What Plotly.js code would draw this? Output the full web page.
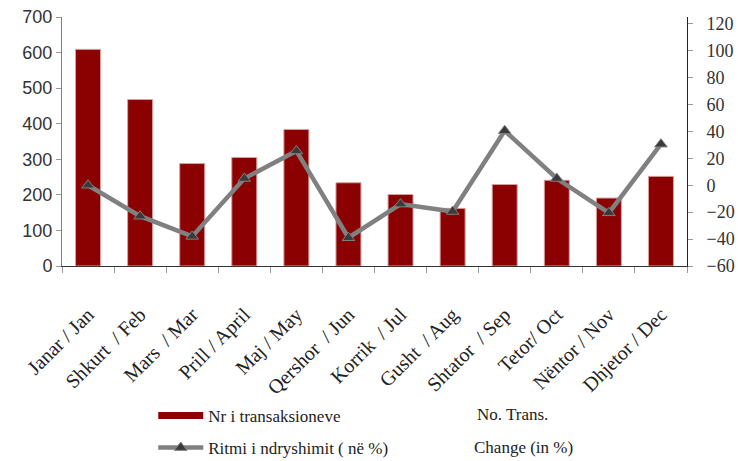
<!DOCTYPE html>
<html>
<head>
<meta charset="utf-8">
<script src="https://cdn.plot.ly/plotly-3.0.1.min.js"></script>
<style>html,body{margin:0;padding:0;background:#fff;}#chart{width:738px;height:461px;}</style>
</head>
<body>
<div id="chart"></div>
<script>
const months = ["Janar / Jan","Shkurt  / Feb","Mars  / Mar","Prill / April","Maj / May","Qershor  / Jun","Korrik  / Jul","Gusht  / Aug","Shtator  / Sep","Tetor/ Oct","Nëntor / Nov","Dhjetor / Dec"];
const transactions = [609, 468, 288, 305, 384, 234, 201, 162, 229, 241, 191, 252];
const changePct = [0, -23, -38, 5, 25.5, -39, -14, -19.5, 40.5, 5, -20.5, 30.5];
const barName = "Nr i transaksioneve";
const lineName = "Ritmi i ndryshimit ( në %)";
const barNameEn = "No. Trans.";
const lineNameEn = "Change (in %)";

const serif = "Liberation Serif, Times New Roman, serif";
const sans = "Liberation Sans, Arial, sans-serif";
const barColor = "#8B0000";

const traces = [
  {
    type: "bar", x: months, y: transactions, name: barName, legendgroup: "a",
    showlegend: false,
    marker: {color: barColor, line: {color: "#d9a0a0", width: 1}},
    yaxis: "y", hoverinfo: "x+y"
  },
  {
    // legend key only (wide bar swatch as in the original legend)
    type: "scatter", mode: "lines", x: [null], y: [null], name: barName, legendgroup: "a",
    line: {color: barColor, width: 7}, yaxis: "y", hoverinfo: "skip"
  },
  {
    type: "scatter", mode: "lines+markers", x: months, y: changePct, name: lineName, legendgroup: "b",
    line: {color: "#808080", width: 4.5},
    marker: {symbol: "triangle-up", size: 11, color: "#3a3a3a", line: {color: "#808080", width: 1}},
    yaxis: "y2"
  }
];

const layout = {
  width: 738, height: 461,
  margin: {l: 62, r: 51, t: 17, b: 195, autoexpand: false},
  paper_bgcolor: "#fff", plot_bgcolor: "#fff",
  bargap: 0.52,
  showlegend: true,
  legend: {
    x: 0.146, xanchor: "left", y: -0.53, yanchor: "top",
    orientation: "v", traceorder: "grouped", tracegroupgap: 7,
    itemwidth: 45,
    font: {family: serif, size: 17, color: "#222"},
    bgcolor: "rgba(0,0,0,0)"
  },
  xaxis: {
    type: "category",
    range: [-0.5, 11.5],
    tickangle: -45,
    tickfont: {family: serif, size: 20, color: "#222"},
    showline: true, linecolor: "#333", linewidth: 1,
    ticks: "outside", ticklen: 6, tickcolor: "#999", tickson: "boundaries",
    ticklabelstandoff: 28,
    showgrid: false, zeroline: false, automargin: false
  },
  yaxis: {
    range: [0, 700], dtick: 100,
    tickfont: {family: sans, size: 18, color: "#333"},
    showline: true, linecolor: "#808080", linewidth: 1,
    ticks: "outside", ticklen: 5, tickcolor: "#999",
    showgrid: false, zeroline: false, automargin: false
  },
  yaxis2: {
    overlaying: "y", side: "right",
    range: [-60, 125], tickvals: [-60,-40,-20,0,20,40,60,80,100,120],
    tickfont: {family: serif, size: 18, color: "#333"},
    showline: true, linecolor: "#222", linewidth: 1,
    ticks: "outside", ticklen: 5, tickcolor: "#999",
    ticklabelstandoff: 10,
    showgrid: false, zeroline: false, automargin: false
  },
  annotations: [
    {text: barNameEn, xref: "paper", yref: "paper", x: 0.661, y: -0.598, xanchor: "left", yanchor: "middle", showarrow: false, font: {family: serif, size: 17, color: "#222"}},
    {text: lineNameEn, xref: "paper", yref: "paper", x: 0.656, y: -0.727, xanchor: "left", yanchor: "middle", showarrow: false, font: {family: serif, size: 17, color: "#222"}}
  ]
};

Plotly.newPlot("chart", traces, layout, {displayModeBar: false, staticPlot: true});
</script>
</body>
</html>
